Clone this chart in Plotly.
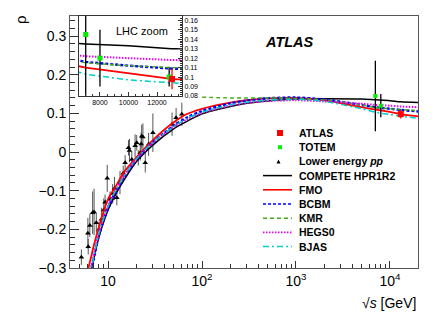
import plotly.graph_objects as go
import numpy as np

# ---------------- data ----------------
# model curves sampled at sqrt(s) [GeV]
sqrt_s_model = [6.1, 6.7, 7, 8, 10, 12, 15, 20, 30, 50, 70, 100, 200, 300, 500,
                1000, 2000, 5000, 7000, 10000, 13000, 20000]
rho_compete = [-0.34, -0.30, -0.28, -0.22, -0.15, -0.11, -0.07, -0.025, 0.018, 0.060, 0.080, 0.099,
               0.118, 0.126, 0.132, 0.137, 0.138, 0.137, 0.135, 0.133, 0.130, 0.128]
rho_fmo = [-0.305, -0.265, -0.245, -0.193, -0.122, -0.09, -0.05, -0.014, 0.031, 0.077, 0.099, 0.112,
           0.128, 0.134, 0.139, 0.140, 0.134, 0.116, 0.110, 0.104, 0.098, 0.092]
rho_bcbm = [-0.33, -0.30, -0.28, -0.215, -0.145, -0.105, -0.063, -0.02, 0.025, 0.068, 0.090, 0.106,
            0.126, 0.133, 0.139, 0.141, 0.136, 0.122, 0.116, 0.112, 0.109, 0.105]
rho_hegs0 = [-0.32, -0.29, -0.27, -0.21, -0.14, -0.10, -0.06, -0.018, 0.024, 0.065, 0.085, 0.101,
             0.120, 0.127, 0.132, 0.134, 0.131, 0.125, 0.122, 0.120, 0.118, 0.116]
rho_bjas = [-0.32, -0.295, -0.275, -0.21, -0.14, -0.10, -0.06, -0.018, 0.025, 0.066, 0.087, 0.103,
            0.122, 0.129, 0.134, 0.136, 0.131, 0.112, 0.103, 0.097, 0.093, 0.087]
sqrt_s_kmr = [100, 200, 300, 500, 1000, 2000, 5000, 7000, 10000, 13000, 20000]
rho_kmr = [0.142, 0.140, 0.140, 0.140, 0.139, 0.135, 0.122, 0.115, 0.112, 0.110, 0.107]

# lower energy pp data
low_sqrt_s = [5.2, 6.1, 6.15, 6.4, 6.85, 7.1, 7.5, 8.0, 8.5, 9.0, 9.3, 9.8, 10.5, 11.2, 11.7,
              12.4, 13.4, 14.5, 15.2, 16.5, 16.9, 17.9, 19.4, 20.2, 21, 22, 22.5, 22.8, 23.5,
              24.9, 27, 30, 48, 53, 61]
low_rho = [-0.272, -0.21, -0.245, -0.19, -0.157, -0.155, -0.183, -0.20, -0.174, -0.15, -0.13,
           -0.068, -0.122, -0.108, -0.094, -0.118, -0.079, -0.055, -0.028, 0.011, 0.004, -0.019,
           0.016, 0.024, -0.015, -0.002, 0.021, 0.041, 0.039, -0.028, 0.02, 0.05, 0.072, 0.089, 0.098]
low_err = [0.02, 0.04, 0.02, 0.03, 0.055, 0.06, 0.025, 0.02, 0.03, 0.03, 0.02, 0.035, 0.02, 0.025,
           0.03, 0.02, 0.03, 0.02, 0.02, 0.02, 0.03, 0.02, 0.03, 0.02, 0.02, 0.02, 0.03, 0.03, 0.035,
           0.025, 0.03, 0.05, 0.03, 0.025, 0.03]

totem_sqrt_s = [7000, 8000, 12850]
totem_rho = [0.145, 0.12, 0.100]
totem_err = [0.091, 0.03, 0.01]

atlas_sqrt_s = [13050]
atlas_rho = [0.098]
atlas_err = [0.011]

x_ticks = [10, 100, 1000, 10000]
x_ticktext = ["10", "10<sup>2</sup>", "10<sup>3</sup>", "10<sup>4</sup>"]
y_ticks = [-0.3, -0.2, -0.1, 0, 0.1, 0.2, 0.3]
y_ticktext = ["\u22120.3", "\u22120.2", "\u22120.1", "0", "0.1", "0.2", "0.3"]
inset_x_ticks = [8000, 10000, 12000]
inset_x_text = ["8000", "10000", "12000"]
inset_y_ticks = [0.08, 0.09, 0.10, 0.11, 0.12, 0.13, 0.14, 0.15, 0.16]
inset_y_text = ["0.08", "0.09", "0.1", "0.11", "0.12", "0.13", "0.14", "0.15", "0.16"]

models = [
    ("COMPETE HPR1R2", sqrt_s_model, rho_compete, "black", "solid", 1.5),
    ("FMO", sqrt_s_model, rho_fmo, "#ff0000", "solid", 1.8),
    ("BCBM", sqrt_s_model, rho_bcbm, "#0000ff", "3px,2px", 2.4),
    ("KMR", sqrt_s_kmr, rho_kmr, "#44aa11", "4px,3px", 1.4),
    ("HEGS0", sqrt_s_model, rho_hegs0, "#ee00ee", "1.5px,1.5px", 2.0),
    ("BJAS", sqrt_s_model, rho_bjas, "#00cccc", "6px,3px,2px,3px", 1.5),
]

FONT = "Liberation Sans, Arial, sans-serif"
W, H = 440, 318
L, R, T, B = 70, 22, 16, 50
PW, PH = W - L - R, H - T - B


def px(xp):
    return (xp - L) / PW


def py(yp):
    return (H - B - yp) / PH


fig = go.Figure()

# lower energy data
fig.add_trace(go.Scatter(
    x=low_sqrt_s, y=low_rho, mode="markers",
    marker=dict(symbol="triangle-up", size=5, color="black"),
    error_y=dict(type="data", array=low_err, color="#555555", thickness=1, width=0),
    xaxis="x", yaxis="y", showlegend=False))

# model curves: main
for name, xs, ys, col, dash, lw in models:
    fig.add_trace(go.Scatter(x=xs, y=ys, mode="lines",
                             line=dict(color=col, dash=dash, width=lw, shape="spline", smoothing=0.8),
                             xaxis="x", yaxis="y", showlegend=False))

fig.add_trace(go.Scatter(x=totem_sqrt_s, y=totem_rho, mode="markers",
                         marker=dict(symbol="square", size=4, color="#00ee00"),
                         error_y=dict(type="data", array=totem_err, color="black", thickness=1.3, width=0),
                         xaxis="x", yaxis="y", showlegend=False))
fig.add_trace(go.Scatter(x=atlas_sqrt_s, y=atlas_rho, mode="markers",
                         marker=dict(symbol="square", size=6, color="#ff0000"),
                         error_y=dict(type="data", array=atlas_err, color="#ff0000", thickness=1.3, width=0),
                         xaxis="x", yaxis="y", showlegend=False))

# inset curves
for name, xs, ys, col, dash, lw in models:
    fig.add_trace(go.Scatter(x=xs, y=ys, mode="lines", line=dict(color=col, dash=dash, width=lw),
                             xaxis="x2", yaxis="y2", showlegend=False))
fig.add_trace(go.Scatter(x=totem_sqrt_s, y=totem_rho, mode="markers",
                         marker=dict(symbol="square", size=5, color="#00ee00"),
                         error_y=dict(type="data", array=totem_err, color="black", thickness=1.3, width=0),
                         xaxis="x2", yaxis="y2", showlegend=False))
fig.add_trace(go.Scatter(x=atlas_sqrt_s, y=atlas_rho, mode="markers",
                         marker=dict(symbol="square", size=6, color="#ff0000"),
                         error_y=dict(type="data", array=atlas_err, color="#ff0000", thickness=1.3, width=0),
                         xaxis="x2", yaxis="y2", showlegend=False))

minor_x = [v * d for d in (1, 10, 100, 1000) for v in range(2, 10)] + [20000]
minor_x = [v for v in minor_x if v not in x_ticks]
minor_y = [round(v, 2) for v in np.arange(-0.3, 0.36, 0.02)]

fig.update_layout(
    width=W, height=H, margin=dict(l=L, r=R, t=T, b=B),
    paper_bgcolor="white", plot_bgcolor="white",
    font=dict(family=FONT, color="black"),
    xaxis=dict(type="log", range=[0.595, 4.299], domain=[0, 1],
               tickvals=x_ticks, ticktext=x_ticktext, ticks="inside", ticklen=7, tickwidth=1,
               tickcolor="#333", showgrid=False, zeroline=False,
               showline=True, linecolor="#555", linewidth=1, mirror=True,
               tickfont=dict(size=14),
               minor=dict(tickvals=minor_x, ticks="inside", ticklen=4, tickcolor="#333", showgrid=False)),
    yaxis=dict(range=[-0.3, 0.352], domain=[0, 1],
               tickvals=y_ticks, ticktext=y_ticktext, ticks="inside", ticklen=9, tickwidth=1,
               tickcolor="#333", showgrid=False, zeroline=False,
               showline=True, linecolor="#555", linewidth=1, mirror=True,
               tickfont=dict(size=14),
               minor=dict(tickvals=minor_y, ticks="inside", ticklen=5, tickcolor="#333", showgrid=False)),
    xaxis2=dict(range=[6530, 13750], domain=[px(79), px(182)], anchor="y2",
                tickvals=inset_x_ticks, ticktext=inset_x_text, ticks="inside", ticklen=4, tickcolor="#333",
                showgrid=False, zeroline=False, showline=True, linecolor="#333", mirror=True,
                tickfont=dict(size=7),
                minor=dict(dtick=500, tick0=0, ticks="inside", ticklen=2, tickcolor="#333")),
    yaxis2=dict(range=[0.08, 0.1645], domain=[py(96), 1.0], anchor="x2", side="right",
                tickvals=inset_y_ticks, ticktext=inset_y_text, ticks="inside", ticklen=4, tickcolor="#333",
                showgrid=False, zeroline=False, showline=True, linecolor="#333", mirror=True,
                tickfont=dict(size=7),
                minor=dict(dtick=0.002, tick0=0, ticks="inside", ticklen=2, tickcolor="#333")),
)

annotations = [
    dict(text="\u03c1", x=px(20), y=py(20), textangle=-90, font=dict(size=15)),
    dict(text="\u221a<i>s</i> [GeV]", x=px(418), y=py(303), xanchor="right", font=dict(size=14)),
    dict(text="<b><i>ATLAS</i></b>", x=px(289), y=py(42.5), font=dict(size=14.5)),
    dict(text="LHC zoom", x=px(142), y=py(31), font=dict(size=11)),
]

# manual legend
leg_names = ["ATLAS", "TOTEM", "Lower energy <i>pp</i>"] + [m[0] for m in models]
leg_y0, leg_dy = 133, 14.2
shapes = []
for i, nm in enumerate(leg_names):
    yc = leg_y0 + i * leg_dy
    annotations.append(dict(text="<b>%s</b>" % nm, x=px(297), y=py(yc), xanchor="left",
                            font=dict(size=10.5)))
    if i == 0:
        shapes.append(dict(type="rect", x0=px(277), x1=px(283), y0=py(yc + 3), y1=py(yc - 3),
                           fillcolor="#ff0000", line=dict(width=0)))
    elif i == 1:
        shapes.append(dict(type="rect", x0=px(278), x1=px(282), y0=py(yc + 2), y1=py(yc - 2),
                           fillcolor="#00ee00", line=dict(width=0)))
    elif i == 2:
        shapes.append(dict(type="path",
                           path="M %f %f L %f %f L %f %f Z" % (px(276.5), py(yc + 2), px(280.5), py(yc + 2),
                                                               px(278.5), py(yc - 2)),
                           fillcolor="black", line=dict(width=0)))
    else:
        _, _, _, col, dash, lw = models[i - 3]
        shapes.append(dict(type="line", x0=px(263), x1=px(292), y0=py(yc), y1=py(yc),
                           line=dict(color=col, dash=dash, width=min(lw, 1.6))))

for a in annotations:
    a.setdefault("xref", "paper")
    a.setdefault("yref", "paper")
    a.setdefault("showarrow", False)
    a.setdefault("xanchor", "center")
    a.setdefault("yanchor", "middle")
for s in shapes:
    s["xref"] = "paper"
    s["yref"] = "paper"

fig.update_layout(annotations=annotations, shapes=shapes)
fig.write_html("out.html", config={"displayModeBar": False},
               post_script="document.body.style.margin='0';document.body.style.padding='0';")
